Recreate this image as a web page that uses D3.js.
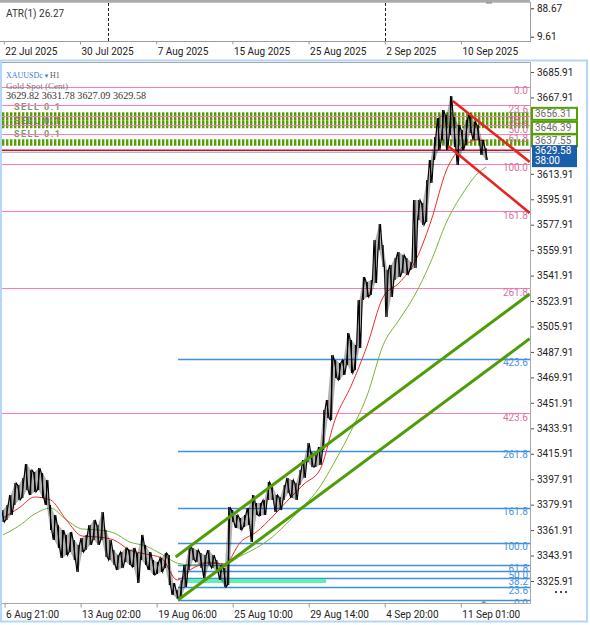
<!DOCTYPE html>
<html><head><meta charset="utf-8">
<script src="https://cdn.jsdelivr.net/npm/d3@7"></script>
<style>body{margin:0;background:#fff}svg{display:block}</style>
</head><body>
<svg id="c" width="590" height="625"></svg>
<script>
// ---------- DATA ----------
const symbolName = "XAUUSDc";
const timeframe = "H1";
const symbolDesc = "Gold Spot (Cent)";
const ohlcText = "3629.82 3631.78 3627.09 3629.58";
const atrLabel = "ATR(1) 26.27";
const atrTicks = [88.67, 9.61];
const topDateLabels = ["22 Jul 2025","30 Jul 2025","7 Aug 2025","15 Aug 2025","25 Aug 2025","2 Sep 2025","10 Sep 2025"];
const topSeparators = [1.37, 5.0];           // positions on the overview date axis
const timeLabels = ["6 Aug 21:00","13 Aug 02:00","19 Aug 06:00","25 Aug 10:00","29 Aug 14:00","4 Sep 20:00","11 Sep 01:00"];
const timeTickBars = [2, 98, 194, 290, 386, 482, 578];  // H1 bar index of each label
// visible price labels (3631.91 and 3649.91 are hidden behind the price tags)
const priceTicks = [3325.91,3343.91,3361.91,3379.91,3397.91,3415.91,3433.91,3451.91,3469.91,3487.91,3505.91,3523.91,3541.91,3559.91,3577.91,3595.91,3613.91,3667.91,3685.91];
const barsPerSample = 5;  // each sample = high/low of 5 H1 bars
const highs = [3376.1,3379.7,3386.7,3395.2,3393.8,3398.8,3408.7,3404.4,3403.0,3405.8,
3402.3,3397.4,3379.7,3372.6,3365.5,3362.0,3358.5,3360.6,3354.9,3351.4,
3356.3,3358.5,3365.5,3369.1,3365.5,3374.7,3362.0,3354.9,3347.8,3344.3,
3346.4,3349.3,3347.8,3349.3,3345.7,3358.5,3351.4,3346.4,3340.8,3339.4,
3342.2,3345.7,3344.3,3324.5,3319.6,3326.6,3337.2,3350.0,3349.3,3347.8,
3345.7,3344.3,3347.8,3344.3,3340.8,3337.2,3335.1,3378.3,3376.1,3372.6,
3370.5,3372.6,3377.5,3386.7,3381.1,3381.1,3383.2,3395.9,3393.8,3386.7,
3385.3,3393.8,3398.8,3397.4,3395.2,3404.4,3411.5,3423.5,3417.1,3415.0,
3420.7,3446.9,3453.9,3485.8,3482.2,3480.1,3482.2,3501.3,3496.4,3492.8,
3524.7,3540.9,3537.4,3538.8,3567.1,3578.4,3563.6,3545.9,3549.4,3554.4,
3558.6,3556.5,3554.4,3551.5,3595.4,3595.4,3593.3,3609.5,3623.7,3639.9,
3653.4,3659.0,3655.5,3668.9,3654.1,3648.4,3644.9,3652.0,3656.9,3650.5,
3648.4,3637.8,3632.2];
const lows = [3367.6,3369.1,3372.6,3379.7,3383.2,3384.6,3390.3,3386.7,3388.9,3390.3,
3384.6,3379.7,3362.0,3354.9,3349.3,3342.2,3344.3,3346.4,3340.8,3332.3,
3346.4,3347.8,3351.4,3354.9,3351.4,3354.9,3342.9,3340.8,3337.2,3333.7,
3335.1,3339.4,3337.2,3335.8,3324.5,3340.8,3337.2,3333.7,3330.2,3330.9,
3332.3,3335.1,3323.1,3316.0,3313.2,3313.9,3321.7,3333.7,3340.8,3339.4,
3335.1,3328.0,3337.2,3335.1,3332.3,3326.6,3321.7,3323.1,3367.6,3363.4,
3362.0,3364.1,3365.5,3353.5,3372.6,3371.9,3372.6,3383.2,3383.2,3374.7,
3376.1,3383.2,3388.2,3384.6,3383.2,3393.8,3398.8,3410.1,3406.5,3406.5,
3408.0,3418.6,3441.2,3439.8,3469.5,3468.1,3471.6,3478.7,3473.0,3475.1,
3490.7,3524.7,3526.8,3528.2,3536.7,3560.0,3548.0,3512.6,3526.8,3538.8,
3540.9,3543.8,3542.3,3545.9,3547.3,3581.2,3577.7,3579.8,3607.4,3623.7,
3630.7,3637.8,3630.7,3641.3,3632.9,3620.1,3630.7,3634.3,3642.8,3637.8,
3637.8,3627.2,3623.7];
const maSampleIdx = [0,4,8,12,16,20,24,28,32,36,40,44,48,52,56,60,64,68,72,76,80,84,88,92,96,100,104,108,112,116,120,122];
const maFast = [3370.5,3377.5,3385.3,3383.2,3369.1,3357.7,3357.0,3354.9,3347.8,3345.0,3342.2,3326.6,3335.1,3338.6,3337.9,3353.5,3360.6,3371.2,3383.2,3394.5,3404.4,3441.2,3464.5,3492.8,3526.8,3536.7,3551.5,3579.8,3616.6,3632.9,3637.8,3637.1];
const maSlow = [3358.5,3364.8,3373.3,3377.5,3369.1,3362.7,3362.0,3359.9,3353.5,3350.7,3345.0,3338.6,3337.2,3339.4,3337.9,3343.6,3349.3,3357.0,3367.6,3379.0,3392.4,3411.5,3432.7,3457.5,3492.8,3510.5,3528.2,3551.5,3579.8,3599.6,3614.5,3618.7];
const fibLevels = ["0.0","23.6","38.2","50.0","61.8","100.0","161.8","261.8","423.6"];
const fibUpperPrices = [3675.6,3662.7,3654.8,3648.4,3641.9,3621.1,3587.4,3532.9,3444.7];
const fibLowerPrices = [3312.5,3322.0,3327.9,3332.7,3337.4,3352.8,3377.7,3418.0,3483.2];
const fibLowerStartBar = 221;
const orderLabels = ["SELL 0.1","SELL 0.1","SELL 0.1"];
const orderPrices = [3656.31,3646.39,3637.55];
const orderLinePrices = [3654.6,3648.9,3636.0];
const bidPrice = 3629.58;
const bidTimer = "38:00";
const redLevel = 3630.6;
const greenUpper = [[218,3342.9],[665,3528.9]];
const greenLower = [[221,3312.5],[665,3497.3]];
const redUpper = [[568,3665.4],[665,3622.3]];
const redLower = [[562,3633.6],[665,3586.2]];
const zoneBars = [230,408];
const zonePrices = [3324.5,3327.3];
const lastBarMark = 607;

// ---------- CHART ----------
const svg = d3.select('#c');
const SANS = 'Roboto, "DejaVu Sans", sans-serif';
const SERIF = '"Liberation Serif", "DejaVu Serif", serif';
const R = 530, T = 63, B = 603;
const x = d3.scaleLinear().domain([0, 665.4]).range([3, 530]);
const y = d3.scaleLinear().domain([3325.91, 3685.91]).range([581, 72]);

// ATR panel
svg.append('rect').attr('x',0).attr('y',0).attr('width',R).attr('height',2.7).attr('fill','#aaaaaa');
svg.append('rect').attr('x',486).attr('y',2.5).attr('width',6).attr('height',1).attr('fill','#777');
svg.append('line').attr('x1',R+0.5).attr('x2',R+0.5).attr('y1',2).attr('y2',42).attr('stroke','#9c9c9c');
svg.append('line').attr('x1',0).attr('x2',R+0.5).attr('y1',41.5).attr('y2',41.5).attr('stroke','#9c9c9c');
svg.append('text').attr('x',6).attr('y',17).attr('font-family',SANS).attr('font-size',10).attr('fill','#333').text(atrLabel);
const xTop = d3.scaleLinear().domain([0,6]).range([3.8,461]);
topSeparators.forEach(v=>{
  svg.append('line').attr('x1',Math.round(xTop(v))+0.5).attr('x2',Math.round(xTop(v))+0.5)
    .attr('y1',3).attr('y2',41).attr('stroke','#222').attr('stroke-dasharray','3,2');
});
const topAx = svg.append('g').attr('transform','translate(0,41.5)')
  .call(d3.axisBottom(xTop).tickValues(d3.range(topDateLabels.length)).tickFormat((d,i)=>topDateLabels[i]).tickSize(3).tickPadding(3));
topAx.select('.domain').remove();
topAx.selectAll('line').attr('stroke','#999');
topAx.selectAll('text').attr('text-anchor','start').attr('dx',1).attr('font-family',SANS).attr('font-size',10).attr('fill','#222');
const atrY = d3.scaleLinear().domain([9.61, 88.67]).range([36.7, 8.3]);
const atrAx = svg.append('g').attr('transform',`translate(${R+1},0)`)
  .call(d3.axisRight(atrY).tickValues(atrTicks).tickFormat(d3.format('.2f')).tickSize(3).tickPadding(3));
atrAx.select('.domain').remove();
atrAx.selectAll('line').attr('stroke','#333');
atrAx.selectAll('text').attr('font-family',SANS).attr('font-size',10).attr('fill','#222');

// main panel frame
svg.append('rect').attr('x',1).attr('y',60.5).attr('width',586).attr('height',561).attr('fill','none').attr('stroke','#b5d6fb').attr('stroke-width',2);
svg.append('line').attr('x1',2).attr('x2',R+0.5).attr('y1',T-0.5).attr('y2',T-0.5).attr('stroke','#a8a8a8');
svg.append('line').attr('x1',R+0.5).attr('x2',R+0.5).attr('y1',T-0.5).attr('y2',B+0.5).attr('stroke','#a8a8a8');

svg.append('defs').append('clipPath').attr('id','plot').append('rect').attr('x',2).attr('y',T).attr('width',R-2).attr('height',B-T);
const g = svg.append('g').attr('clip-path','url(#plot)');

// pending order lines (thick dotted)
const orderWidths = [8,8,6.5];
orderLinePrices.forEach((p,i)=>{
  g.append('line').attr('x1',2).attr('x2',R).attr('y1',y(p)).attr('y2',y(p))
   .attr('stroke','#55a003').attr('stroke-width',orderWidths[i]).attr('stroke-dasharray','2.4,1.6');
});
// SELL labels
orderPrices.forEach((p,i)=>{
  g.append('text').attr('x',14).attr('y',y(p)-7+3.3).attr('font-family',SANS).attr('font-size',9).attr('font-weight','bold')
   .attr('letter-spacing',1.5).attr('fill','#6f7f60').attr('opacity',0.85).text(orderLabels[i]);
});

// upper (pink) fib
fibUpperPrices.forEach((p,i)=>{
  g.append('line').attr('x1',2).attr('x2',R).attr('y1',Math.round(y(p))+0.5).attr('y2',Math.round(y(p))+0.5)
   .attr('stroke','#ff7ab8').attr('stroke-width',1.2);
  g.append('text').attr('x',R-2).attr('y',y(p)+7.8).attr('text-anchor','end').attr('font-family',SANS)
   .attr('font-size',10).attr('fill','#d96fa3').text(fibLevels[i]);
});
// lower (blue) fib
fibLowerPrices.forEach((p,i)=>{
  g.append('line').attr('x1',x(fibLowerStartBar)).attr('x2',R).attr('y1',Math.round(y(p))+0.5).attr('y2',Math.round(y(p))+0.5)
   .attr('stroke','#3f90e4').attr('stroke-width',1.5);
  g.append('text').attr('x',R-2).attr('y',y(p)+7.3).attr('text-anchor','end').attr('font-family',SANS)
   .attr('font-size',10).attr('fill','#4a92dc').text(fibLevels[i]);
});
// mint zone
g.append('rect').attr('x',x(zoneBars[0])).attr('width',x(zoneBars[1])-x(zoneBars[0]))
 .attr('y',y(zonePrices[1])).attr('height',y(zonePrices[0])-y(zonePrices[1])).attr('fill','#5ff2a8');

// price level lines
g.append('line').attr('x1',2).attr('x2',R).attr('y1',y(redLevel)).attr('y2',y(redLevel)).attr('stroke','#c8102e').attr('stroke-width',1.6);
g.append('line').attr('x1',2).attr('x2',R).attr('y1',y(bidPrice)+0.6).attr('y2',y(bidPrice)+0.6).attr('stroke','#5b7fb0').attr('stroke-width',0.7);

// moving averages
const maLine = vals => d3.line().x((d,i)=>x(maSampleIdx[i]*barsPerSample)).y(d=>y(d)).curve(d3.curveMonotoneX)(vals);
g.append('path').attr('d',maLine(maSlow)).attr('fill','none').attr('stroke','#79b536').attr('stroke-width',1);
g.append('path').attr('d',maLine(maFast)).attr('fill','none').attr('stroke','#f22a2a').attr('stroke-width',1);

// price bars (dense H1 bars, aggregated): light range band + bar strokes
const band = d3.area().x((d,i)=>x(i*barsPerSample)).y0((d,i)=>y(lows[i])).y1(d=>y(d));
g.append('path').attr('d',band(highs)).attr('fill','#000').attr('opacity',0.3);
const pts = [];
highs.forEach((h,i)=>{
  const xc = x(i*barsPerSample), lo = lows[i];
  if(i%2===0){ pts.push([xc-1.3,y(h)],[xc+1.3,y(lo)]); } else { pts.push([xc-1.3,y(lo)],[xc+1.3,y(h)]); }
});
g.append('path').attr('d',d3.line()(pts)).attr('fill','none').attr('stroke','#000').attr('stroke-width',1.1);
g.selectAll('line.bar').data(highs).join('line').attr('class','bar')
  .attr('x1',(d,i)=>x(i*barsPerSample)).attr('x2',(d,i)=>x(i*barsPerSample))
  .attr('y1',d=>y(d)).attr('y2',(d,i)=>y(lows[i])).attr('stroke','#000').attr('stroke-width',1.1);

// channels
const seg = s => d3.line().x(d=>x(d[0])).y(d=>y(d[1]))(s);
[greenUpper, greenLower].forEach(s=>g.append('path').attr('d',seg(s)).attr('stroke','#4f9c07').attr('stroke-width',3).attr('fill','none'));
[redUpper, redLower].forEach(s=>g.append('path').attr('d',seg(s)).attr('stroke','#e4261e').attr('stroke-width',2.6).attr('fill','none'));

// bottom time axis
const bAx = svg.append('g').attr('transform',`translate(0,${B+0.5})`)
  .call(d3.axisBottom(x).tickValues(timeTickBars).tickFormat((d,i)=>timeLabels[i]).tickSize(4).tickPadding(3));
bAx.select('.domain').attr('d',`M2,0H${R+0.5}`).attr('stroke','#a8a8a8');
bAx.selectAll('.tick line').attr('stroke','#999');
bAx.selectAll('text').attr('text-anchor','start').attr('dx',1).attr('font-family',SANS).attr('font-size',10).attr('fill','#222');
svg.append('path').attr('d',`M${x(lastBarMark)-2.5},${B}L${x(lastBarMark)+2.5},${B}L${x(lastBarMark)},${B-3}Z`).attr('fill','#999');

// right price axis
const pAx = svg.append('g').attr('transform',`translate(${R+1},0)`)
  .call(d3.axisRight(y).tickValues(priceTicks).tickFormat(d3.format('.2f')).tickSize(3).tickPadding(3));
pAx.select('.domain').remove();
pAx.selectAll('line').attr('stroke','#555');
pAx.selectAll('text').attr('font-family',SANS).attr('font-size',10).attr('fill','#222');

// order tags
orderPrices.forEach(p=>{
  const cy = y(p);
  svg.append('rect').attr('x',532).attr('y',cy-6).attr('width',45).attr('height',12).attr('fill','#fff').attr('stroke','#55a003').attr('stroke-width',2);
  svg.append('text').attr('x',535).attr('y',cy+3.6).attr('font-family',SANS).attr('font-size',10).attr('fill','#6b6b6b').text(d3.format('.2f')(p));
});
// bid tag
const by = y(bidPrice);
svg.append('rect').attr('x',532).attr('y',by-6.5).attr('width',45).attr('height',22).attr('fill','#1b5ea9');
svg.append('text').attr('x',535).attr('y',by+2.5).attr('font-family',SANS).attr('font-size',10).attr('fill','#fff').text(d3.format('.2f')(bidPrice));
svg.append('text').attr('x',535).attr('y',by+12.5).attr('font-family',SANS).attr('font-size',10).attr('fill','#fff').text(bidTimer);

// dots
[556,561,566].forEach(cx=>svg.append('circle').attr('cx',cx).attr('cy',592).attr('r',1.1).attr('fill','#222'));

// header texts
const h = svg.append('text').attr('x',6).attr('y',78).attr('font-family',SERIF).attr('font-size',8);
h.append('tspan').attr('fill','#3a80d6').text(symbolName);
h.append('tspan').attr('fill','#3a80d6').attr('font-size',7).text(' ▾ ');
h.append('tspan').attr('fill','#555').text(timeframe);
svg.append('text').attr('x',6).attr('y',88.5).attr('font-family',SERIF).attr('font-size',9).attr('fill','#777').text(symbolDesc);
svg.append('text').attr('x',6).attr('y',99).attr('font-family',SERIF).attr('font-size',10.2).attr('fill','#333').text(ohlcText);
</script>
</body></html>
